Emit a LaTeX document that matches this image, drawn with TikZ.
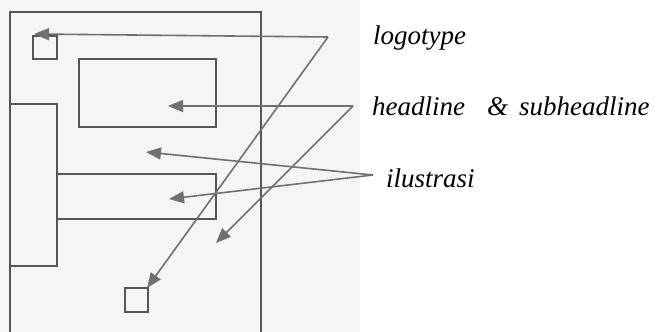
\documentclass[tikz,border=0pt]{standalone}
\usepackage{fontspec}
\setmainfont{Liberation Serif}
\usetikzlibrary{arrows.meta}
\definecolor{boxc}{HTML}{555555}
\definecolor{arrc}{HTML}{707070}
\definecolor{bgc}{HTML}{F5F5F5}
\begin{document}
\begin{tikzpicture}[x=1pt,y=-1pt,
  box/.style={draw=boxc,line width=1.6pt,inner sep=0pt,outer sep=0pt,anchor=north west,fill=none},
  conn/.style={draw=arrc,line width=1.6pt,-{Triangle[length=15pt,width=12pt]}},
  lbl/.style={font=\itshape\fontsize{27}{30}\selectfont,anchor=base west,inner sep=0pt}]
\useasboundingbox (0,0) rectangle (665,332);
\clip (0,0) rectangle (665,332);
\fill[bgc] (0,0) rectangle (360,332);
% page
\node[box,minimum width=251pt,minimum height=330pt] (page) at (10,12) {};
% logo top
\node[box,minimum width=24pt,minimum height=23pt] (logoA) at (33,36) {};
% headline box
\node[box,minimum width=137pt,minimum height=68pt] (head) at (79,59) {};
% left tall box
\node[box,minimum width=47pt,minimum height=162pt] (tall) at (10,104) {};
% middle box
\node[box,minimum width=159pt,minimum height=45pt] (mid) at (57,174) {};
% logo bottom
\node[box,minimum width=23pt,minimum height=24pt] (logoB) at (125,288) {};
% labels
\node[lbl] (tlogo) at (373,44) {logotype};
\node[lbl] (thead) at (372,115) {headline\hspace{22pt}\&\hspace{11pt}subheadline};
\node[lbl] (till) at (386,187) {ilustrasi};
% apex points
\coordinate (pL) at (328,37);
\coordinate (pH) at (353,106);
\coordinate (pI) at (373,175);
% targets
\coordinate (tL1) at (34,34);
\coordinate (tL2) at (147,288);
\coordinate (tH1) at (168,106);
\coordinate (tH2) at (216,243);
\coordinate (tI1) at (146,152);
\coordinate (tI2) at (169,199);
\draw[conn] (pL) -- (tL1);
\draw[conn] (pL) -- (tL2);
\draw[conn] (pH) -- (tH1);
\draw[conn] (pH) -- (tH2);
\draw[conn] (pI) -- (tI1);
\draw[conn] (pI) -- (tI2);
\end{tikzpicture}
\end{document}
